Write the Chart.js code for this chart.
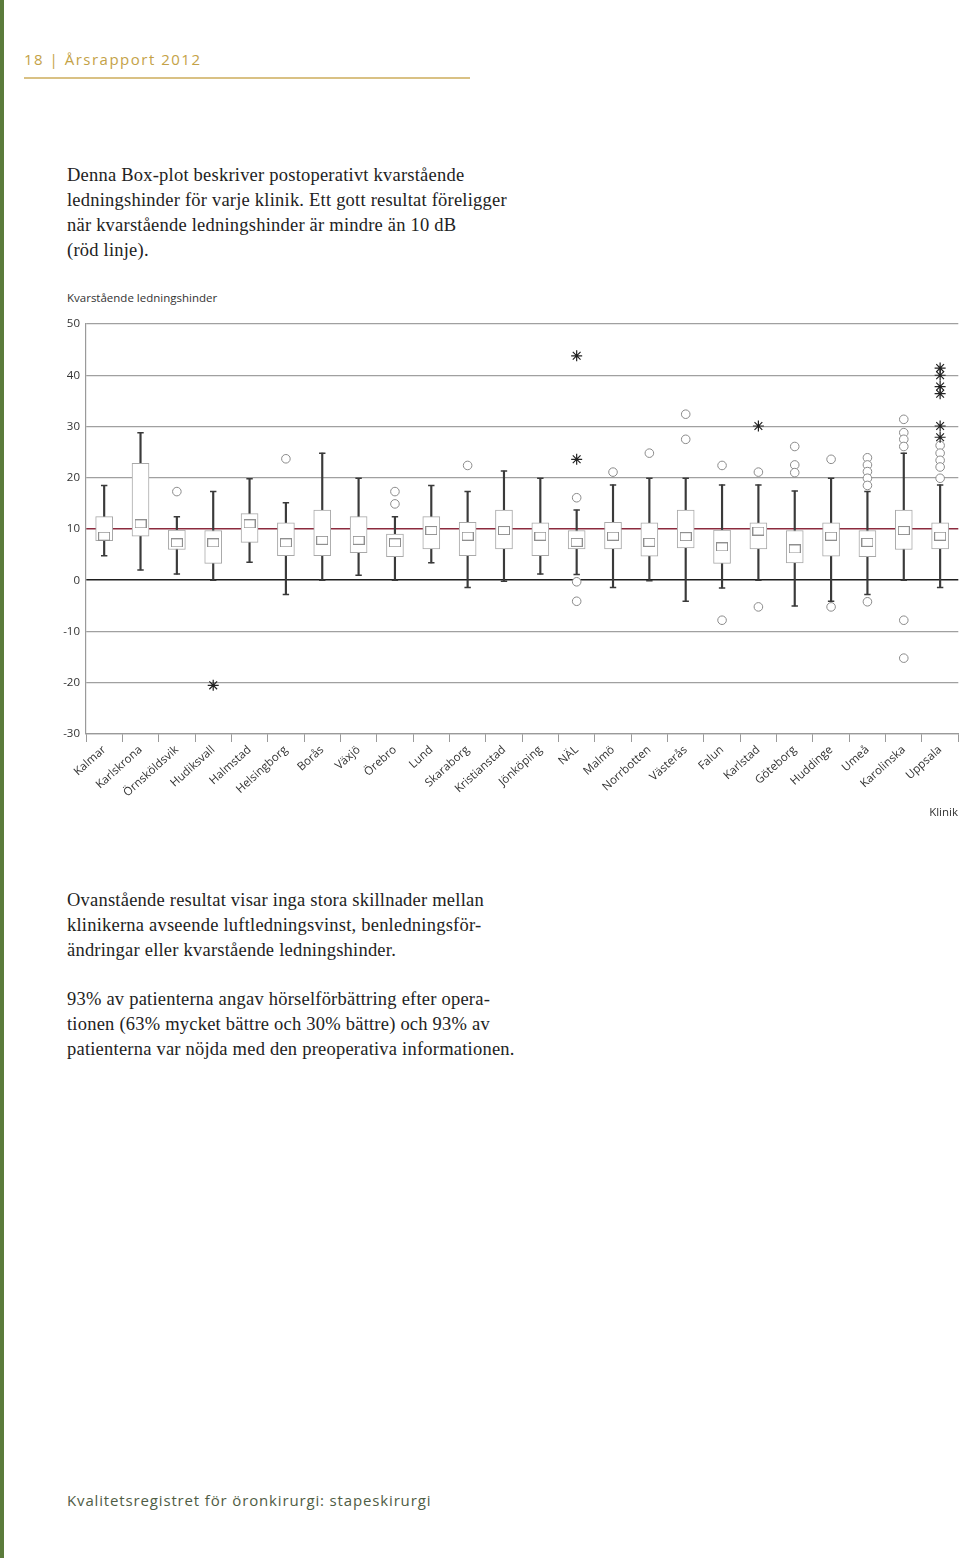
<!DOCTYPE html>
<html><head><meta charset="utf-8">
<script src="https://cdn.jsdelivr.net/npm/chart.js@4.4.1/dist/chart.umd.min.js"></script>
<style>
html,body{margin:0;padding:0;background:#fff;}
body{width:960px;height:1558px;position:relative;overflow:hidden;}
#bar{position:absolute;left:0;top:0;width:4px;height:1558px;background:#5b7b3b;z-index:2;}
#hdr{position:absolute;left:24px;top:49px;font:15px "Open Sans",sans-serif;letter-spacing:1.5px;color:#c4a247;white-space:nowrap;}
#hline{position:absolute;left:24px;top:77px;width:446px;height:1.5px;background:#d9c184;}
.serif{position:absolute;left:67px;font:18.5px "Liberation Serif",serif;letter-spacing:0.22px;color:#222;line-height:25px;white-space:nowrap;}
.sm{position:absolute;font:11.5px "Open Sans",sans-serif;color:#333;white-space:nowrap;}
#foot{position:absolute;left:67px;top:1490px;font:15px "Open Sans",sans-serif;letter-spacing:0.85px;color:#4f5d45;white-space:nowrap;}
#wrap{position:absolute;left:0;top:310px;width:965px;height:520px;}
</style></head><body>
<div id="bar"></div>
<div id="hdr">18 | Årsrapport 2012</div>
<div id="hline"></div>
<div class="serif" style="top:163px">Denna Box-plot beskriver postoperativt kvarstående<br>ledningshinder för varje klinik. Ett gott resultat föreligger<br>när kvarstående ledningshinder är mindre än 10 dB<br>(röd linje).</div>
<div class="sm" style="left:67px;top:290px">Kvarstående ledningshinder</div>
<div id="wrap"><canvas id="c" width="965" height="520"></canvas></div>
<div class="sm" style="right:2px;top:804px">Klinik</div>
<div class="serif" style="top:888px">Ovanstående resultat visar inga stora skillnader mellan<br>klinikerna avseende luftledningsvinst, benledningsför-<br>ändringar eller kvarstående ledningshinder.</div>
<div class="serif" style="top:987px">93% av patienterna angav hörselförbättring efter opera-<br>tionen (63% mycket bättre och 30% bättre) och 93% av<br>patienterna var nöjda med den preoperativa informationen.</div>
<div id="foot">Kvalitetsregistret för öronkirurgi: stapeskirurgi</div>
<script>
const clinics = ["Kalmar","Karlskrona","Örnsköldsvik","Hudiksvall","Halmstad","Helsingborg","Borås","Växjö","Örebro","Lund","Skaraborg","Kristianstad","Jönköping","NÄL","Malmö","Norrbotten","Västerås","Falun","Karlstad","Göteborg","Huddinge","Umeå","Karolinska","Uppsala"];
const whiskerLow  = [4.8, 2.0, 1.2, 0.0, 3.5, -2.8, 0.0, 1.0, 0.0, 3.4, -1.4, -0.2, 1.2, 1.1, -1.4, -0.1, -4.1, -1.5, 0.0, -5.0, -4.1, -2.8, 0.0, -1.4];
const q1          = [7.7, 8.6, 6.0, 3.3, 7.4, 4.8, 4.8, 5.4, 4.6, 6.1, 4.8, 6.1, 4.8, 6.1, 6.1, 4.7, 6.3, 3.3, 6.1, 3.4, 4.7, 4.6, 6.0, 6.1];
const median      = [8.6, 11.0, 7.3, 7.3, 11.0, 7.3, 7.8, 7.8, 7.3, 9.7, 8.6, 9.7, 8.6, 7.4, 8.6, 7.4, 8.5, 6.5, 9.6, 6.1, 8.6, 7.4, 9.7, 8.6];
const q3          = [12.4, 22.8, 9.8, 9.7, 13.0, 11.2, 13.7, 12.4, 9.0, 12.4, 11.3, 13.7, 11.2, 9.7, 11.3, 11.2, 13.7, 9.8, 11.2, 9.7, 11.2, 9.7, 13.7, 11.2];
const whiskerHigh = [18.5, 28.8, 12.4, 17.3, 19.8, 15.1, 24.8, 19.9, 12.4, 18.5, 17.3, 21.3, 19.9, 13.7, 18.6, 19.9, 19.9, 18.6, 18.6, 17.4, 19.9, 17.3, 24.8, 18.6];
const circleOutliers = [
  ["Örnsköldsvik",17.3],["Helsingborg",23.7],["Örebro",17.3],["Örebro",14.9],["Skaraborg",22.4],
  ["NÄL",16.1],["NÄL",-0.3],["NÄL",-4.1],["Malmö",21.1],["Norrbotten",24.8],
  ["Västerås",32.4],["Västerås",27.5],["Falun",22.4],["Falun",-7.8],["Karlstad",21.1],["Karlstad",-5.2],
  ["Göteborg",26.1],["Göteborg",22.5],["Göteborg",21.0],["Huddinge",23.6],["Huddinge",-5.2],
  ["Umeå",23.9],["Umeå",22.5],["Umeå",21.2],["Umeå",19.9],["Umeå",18.5],["Umeå",-4.2],
  ["Karolinska",31.4],["Karolinska",28.8],["Karolinska",27.5],["Karolinska",26.1],["Karolinska",-7.8],["Karolinska",-15.2],
  ["Uppsala",26.3],["Uppsala",24.8],["Uppsala",23.4],["Uppsala",22.1],["Uppsala",19.9]
];
const starOutliers = [
  ["Hudiksvall",-20.5],["NÄL",43.8],["NÄL",23.6],["Karlstad",30.1],
  ["Uppsala",41.4],["Uppsala",40.0],["Uppsala",37.8],["Uppsala",36.4],["Uppsala",30.1],["Uppsala",27.9]
];
const yTicks = [-30,-20,-10,0,10,20,30,40,50];
const limitValue = 10;

// median marker image
const medImg = document.createElement('canvas');
medImg.width = 12; medImg.height = 9;
(function(){const g=medImg.getContext('2d');g.fillStyle='#fff';g.fillRect(0,0,12,9);g.strokeStyle='#8f8f8f';g.lineWidth=1;g.strokeRect(0.5,0.5,11,8);})();

const pts = arr => arr.map(([x,y]) => ({x, y}));
const font = {family:'"Open Sans", sans-serif', size:11.5};

new Chart(document.getElementById('c'), {
  data: {
    labels: clinics,
    datasets: [
      {type:'bar', label:'whisker', data: clinics.map((c,i)=>[whiskerLow[i], whiskerHigh[i]]), backgroundColor:'#3a3a3a', barThickness:1.5, grouped:false, order:6, borderWidth:0},
      {type:'bar', label:'box', data: clinics.map((c,i)=>[q1[i], q3[i]]), backgroundColor:'#fff', borderColor:'#a8a8a8', borderWidth:1, borderSkipped:false, barThickness:17, grouped:false, order:5},
      {type:'line', label:'capLow', data: clinics.map((c,i)=>({x:c, y:whiskerLow[i]})), showLine:false, pointStyle:'line', pointRadius:3.2, borderColor:'#3a3a3a', borderWidth:1.5, order:4},
      {type:'line', label:'capHigh', data: clinics.map((c,i)=>({x:c, y:whiskerHigh[i]})), showLine:false, pointStyle:'line', pointRadius:3.2, borderColor:'#3a3a3a', borderWidth:1.5, order:4},
      {type:'line', label:'median', data: clinics.map((c,i)=>({x:c, y:median[i]})), showLine:false, pointStyle:medImg, pointRadius:5, order:3},
      {type:'line', label:'circles', data: pts(circleOutliers), showLine:false, pointStyle:'circle', pointRadius:4.3, backgroundColor:'#fff', borderColor:'#8a8a8a', borderWidth:1, order:2},
      {type:'line', label:'stars', data: pts(starOutliers), showLine:false, pointStyle:'star', pointRadius:5.5, borderColor:'#222', borderWidth:1.2, order:1}
    ]
  },
  options: {
    responsive:false, animation:false, devicePixelRatio:1,
    layout:{padding:{top:14, right:2, left:0, bottom:0}},
    plugins:{legend:{display:false}, tooltip:{enabled:false}, title:{display:false}},
    scales:{
      x:{type:'category', offset:true,
         grid:{offset:true, drawOnChartArea:false, drawTicks:true, tickLength:8, color:'#9a9a9a', lineWidth:1},
         border:{display:true, color:'#9a9a9a', width:1.2},
         ticks:{autoSkip:false, maxRotation:42, minRotation:42, padding:1, color:'#333', font},
         afterFit: s => { s.height = 96; s.paddingRight = 0; s.paddingLeft = 0; }
      },
      y:{min:-30, max:50,
         afterBuildTicks: s => { s.ticks = yTicks.map(v=>({value:v})); },
         afterFit: s => { s.width = 86; s.paddingTop = 0; s.paddingBottom = 0; },
         grid:{drawTicks:false, tickLength:0,
               color: ctx => ctx.tick && ctx.tick.value === 0 ? '#1e1e1e' : (ctx.tick && ctx.tick.value === limitValue ? '#8c2b3e' : '#a0a0a0'),
               lineWidth: ctx => ctx.tick && (ctx.tick.value === 0 || ctx.tick.value === limitValue) ? 1.6 : 1.2},
         border:{display:true, color:'#9a9a9a', width:1.2},
         ticks:{padding:6, color:'#333', font}
      }
    }
  }
});
</script>
</body></html>
